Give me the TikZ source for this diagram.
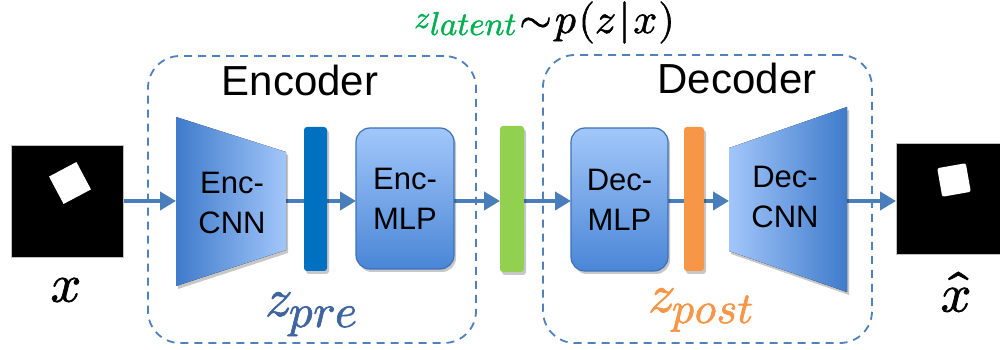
\documentclass[tikz,border=0pt]{standalone}
\usepackage{fontspec}
\usepackage{unicode-math}
\setmainfont{Liberation Sans}
\setmathfont{Latin Modern Math}[FakeBold=1.4]
\usetikzlibrary{arrows.meta,shadows}
\pgfdeclarelayer{back}
\pgfsetlayers{back,main}
\definecolor{arrblue}{HTML}{4A7EBB}
\definecolor{dashblue}{HTML}{4F81BD}
\definecolor{cnndark}{HTML}{3F7BCB}
\definecolor{cnnlight}{HTML}{A2C6FA}
\definecolor{mlptop}{HTML}{A2C7FA}
\definecolor{mlpbot}{HTML}{4A86D6}
\definecolor{mlpedge}{HTML}{3D72B8}
\definecolor{barblue}{HTML}{0070C0}
\definecolor{bargreen}{HTML}{92D050}
\definecolor{barorange}{HTML}{F79646}
\definecolor{zgreen}{HTML}{00B050}
\definecolor{zblue}{HTML}{3F64A0}
\begin{document}
\begin{tikzpicture}[x=1pt,y=1pt,
  dashbox/.style={draw=dashblue, line width=1.8pt, dash pattern=on 8pt off 6pt, rounded corners=32pt, inner sep=0pt, outer sep=0pt},
  arr/.style={draw=arrblue, line width=4.5pt, -{Triangle[length=16pt,width=18pt]}},
  shad/.style={drop shadow={shadow xshift=2pt, shadow yshift=-3pt, opacity=0.22, fill=black}},
  barbox/.style={shad, rounded corners=3pt, inner sep=0pt, outer sep=0pt},
  mlpbox/.style={shad, draw=mlpedge, line width=1.2pt, top color=mlptop, bottom color=mlpbot, rounded corners=14pt, inner sep=0pt, outer sep=0pt, align=center, font=\fontsize{31}{40}\selectfont},
  img/.style={fill=black, draw=gray!50, line width=0.8pt, inner sep=0pt, outer sep=0pt},
  lbl/.style={font=\fontsize{42}{42}\selectfont},
  inlbl/.style={align=center, font=\fontsize{31}{40}\selectfont, inner sep=0pt},
  mathlbl/.style={inner sep=0pt, anchor=base west},
]
\useasboundingbox (0,0) rectangle (1000,350);
\begin{pgfonlayer}{back}
\fill[white] (0,0) rectangle (1000,350);
\end{pgfonlayer}

% images
\node[img, minimum width=112pt, minimum height=112pt] (xin) at (67,149) {};
\fill[white, rotate around={28:(70,167)}] (54.5,151.5) rectangle (85.5,182.5);
\node[img, minimum width=106pt, minimum height=111pt] (xout) at (949,151.5) {};
\fill[white, rounded corners=2pt, rotate around={10:(954,170)}] (939.5,155.5) rectangle (968.5,184.5);

% trapezoids (CNNs)
\coordinate (ecnnL) at (176,149);
\coordinate (ecnnR) at (286,149);
\coordinate (dcnnL) at (729,149);
\coordinate (dcnnR) at (847,149);
\fill[shad, left color=cnndark, right color=cnnlight] (176,233) -- (286,198) -- (286,100) -- (176,64) -- cycle;
\fill[shad, left color=cnnlight, right color=cnndark] (729,202) -- (847,243) -- (847,58) -- (729,99) -- cycle;
\node[inlbl] (ecnn) at (232,147) {Enc-\\CNN};
\node[inlbl] (dcnn) at (785,153) {Dec-\\CNN};

% bars
\node[barbox, fill=barblue, minimum width=23pt, minimum height=144pt] (bbar) at (315.5,151) {};
\node[barbox, fill=bargreen, minimum width=24pt, minimum height=146pt] (gbar) at (512,151) {};
\node[barbox, fill=barorange, minimum width=20pt, minimum height=144pt] (obar) at (694,151) {};

% MLPs
\node[mlpbox, minimum width=98pt, minimum height=141pt] (emlp) at (405,151.5) {Enc-\\MLP};
\node[mlpbox, minimum width=97pt, minimum height=143pt] (dmlp) at (619.5,150.5) {Dec-\\MLP};

% group boxes and arrows behind
\begin{pgfonlayer}{back}
\node[dashbox, minimum width=328pt, minimum height=287pt] (encbox) at (312,150.5) {};
\node[dashbox, minimum width=329pt, minimum height=288pt] (decbox) at (707.5,151) {};
\draw[arr] (xin.east |- ecnnL) -- (ecnnL);
\draw[arr] (ecnnR) -- (emlp.west |- ecnnR);
\draw[arr] (emlp.east |- ecnnR) -- (gbar.west |- ecnnR);
\draw[arr] (gbar.east |- ecnnR) -- (dmlp.west |- ecnnR);
\draw[arr] (dmlp.east |- dcnnL) -- (dcnnL);
\draw[arr] (dcnnR) -- (xout.west |- dcnnR);
\end{pgfonlayer}

\node[lbl] (enclbl) at (300,270) {Encoder};
\node[lbl] (declbl) at (737,272) {Decoder};

% math labels
\node[mathlbl, text=zblue] (zpre) at (265,34)
  {\fontsize{54}{54}\selectfont$z$\kern-3pt\raisebox{-11pt}{\fontsize{47}{47}\selectfont$pre$}};
\node[mathlbl, text=barorange] (zpost) at (648,38)
  {\fontsize{54}{54}\selectfont$z$\kern-3pt\raisebox{-11pt}{\fontsize{44}{44}\selectfont$post$}};
\node[mathlbl] (zlat) at (414,317)
  {\fontsize{42}{42}\selectfont
   \textcolor{zgreen}{\raisebox{5pt}{\fontsize{32}{32}\selectfont$z$}\raisebox{-2pt}{\fontsize{33}{33}\selectfont$latent$}}%
   \kern3pt$\sim$\kern3pt$p\kern2pt(z\kern3pt|\kern3pt x\kern1pt)$};
\node[inner sep=0pt, font=\fontsize{54}{54}\selectfont] (xl) at (66,60) {$x$};
\node[inner sep=0pt, font=\fontsize{54}{54}\selectfont] (xhl) at (956,58) {$\hat{x}$};
\end{tikzpicture}
\end{document}
